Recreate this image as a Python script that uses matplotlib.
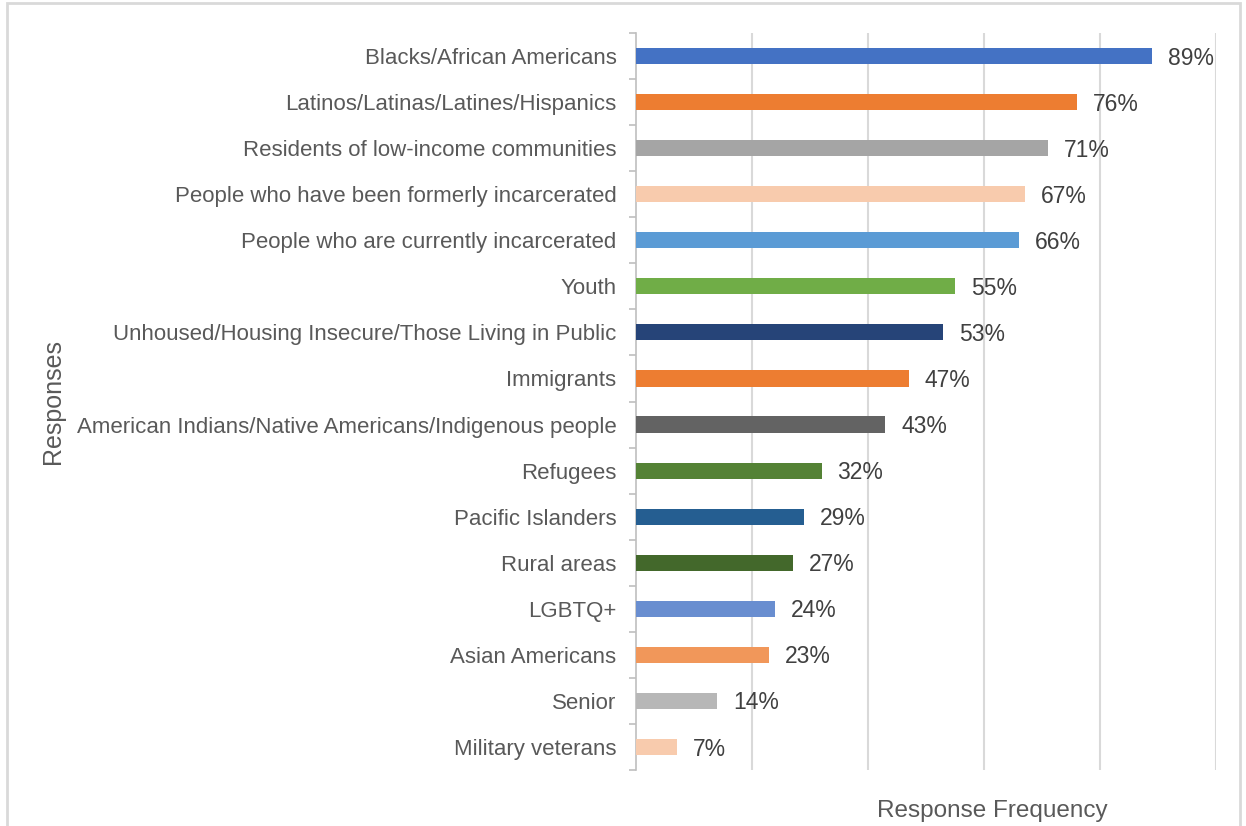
import matplotlib.pyplot as plt
from matplotlib.patches import Rectangle
import numpy as np

plt.rcParams['font.family'] = ['Liberation Sans', 'DejaVu Sans']

# data, top to bottom as in the picture
categories = ["Blacks/African Americans",
              "Latinos/Latinas/Latines/Hispanics",
              "Residents of low-income communities",
              "People who have been formerly incarcerated",
              "People who are currently incarcerated",
              "Youth",
              "Unhoused/Housing Insecure/Those Living in Public",
              "Immigrants",
              "American Indians/Native Americans/Indigenous people",
              "Refugees",
              "Pacific Islanders",
              "Rural areas",
              "LGBTQ+",
              "Asian Americans",
              "Senior",
              "Military veterans"]
values = [89, 76, 71, 67, 66, 55, 53, 47, 43, 32, 29, 27, 24, 23, 14, 7]
colors = ["#4472C4", "#ED7D31", "#A5A5A5", "#F8CBAD", "#5B9BD5", "#70AD47",
          "#264478", "#ED7D31", "#636363", "#548235", "#255E91", "#43682B",
          "#698ED0", "#F1975A", "#B7B7B7", "#F8CBAD"]

txt = "#595959"

fig = plt.figure(figsize=(12.46, 8.26), dpi=100)
ax = fig.add_axes([636/1246, 1-770/826, 580/1246, 737/826])

# outer frame
fig.patches.append(Rectangle((7/1246, -0.05), 1233/1246, 1.05 - 3/826,
                             transform=fig.transFigure, fill=False,
                             edgecolor="#D9D9D9", lw=2))

y = np.arange(len(categories))
ax.barh(y, values, height=0.35, color=colors, zorder=3)
for yi, v in zip(y, values):
    ax.annotate(f"{v}%", (v, yi), xytext=(11.5, -1.5), textcoords="offset points",
                va="center", ha="left", fontsize=16.5, color="#404040", zorder=4)

ax.set_xlim(0, 100)
ax.set_ylim(len(categories) - 0.5, -0.5)
ax.set_xticks([20, 40, 60, 80, 100])
ax.set_xticklabels([])
ax.tick_params(axis="x", length=0)
ax.grid(axis="x", color="#D9D9D9", lw=1.5, zorder=0)

ax.set_yticks(y)
ax.set_yticklabels(categories, fontsize=16, color=txt)
ax.tick_params(axis="y", which="major", length=0, pad=14)
ax.set_yticks(np.arange(-0.5, len(categories), 1), minor=True)
ax.tick_params(axis="y", which="minor", length=5, color="#BFBFBF", width=1.2)

for s in ["top", "right", "bottom"]:
    ax.spines[s].set_visible(False)
ax.spines["left"].set_color("#BFBFBF")
ax.spines["left"].set_linewidth(1.2)

ax.set_xlabel("Response Frequency", fontsize=17.5, color=txt)
ax.xaxis.set_label_coords(0.614, -0.041)
ax.set_ylabel("Responses", fontsize=18, color=txt)
ax.yaxis.set_label_coords(-0.984, 0.5)

fig.savefig("out.png", dpi=100)
